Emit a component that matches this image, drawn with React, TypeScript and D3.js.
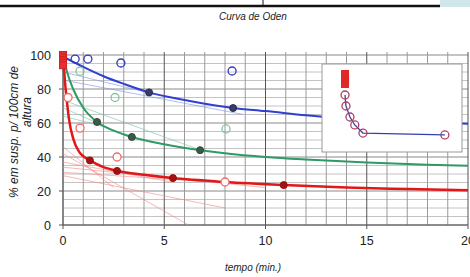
import React from 'react'
import * as d3 from 'd3'

// leituras da curva de Oden (tempo em min., % em suspensão)
const blueCurveX = [0, 0.5, 1, 2, 3, 4.25, 6, 8.4, 10, 12, 14, 17, 20]
const blueCurveY = [99, 96, 93, 87.5, 83, 78, 73.5, 68.8, 67, 64.5, 62.5, 60.8, 59.5]
const blueOpenX = [0.6, 1.23, 2.86, 8.35]
const blueOpenY = [97.6, 97.6, 95.3, 90.6]
const blueFullX = [4.25, 8.4]
const blueFullY = [78, 68.8]

const greenCurveX = [0, 0.2, 0.5, 1, 1.68, 2.5, 3.4, 5, 6.8, 8, 10, 12, 15, 18, 20]
const greenCurveY = [100, 90, 80, 69, 60.6, 55.5, 51.8, 47.5, 44, 42.2, 40, 38.5, 36.8, 35.5, 34.8]
const greenOpenX = [0.84, 2.57, 8.05]
const greenOpenY = [90.5, 75, 56.5]
const greenFullX = [1.68, 3.4, 6.77]
const greenFullY = [60.6, 51.8, 44]

const redCurveX = [0, 0.05, 0.1, 0.2, 0.3, 0.5, 0.8, 1, 1.33, 2, 2.7, 4, 5.4, 8, 10.9, 14, 17, 20]
const redCurveY = [100, 92, 84, 72, 62, 51, 43, 40.5, 38, 34, 31.8, 29.5, 27.6, 25.3, 23.5, 22, 21.2, 20.5]
const redOpenX = [0.25, 0.84, 2.67, 8.0]
const redOpenY = [75, 57, 40, 25.3]
const redFullX = [1.33, 2.67, 5.43, 10.9]
const redFullY = [38, 31.8, 27.6, 23.5]
const redSquareY = [100, 98.5, 97, 95.5, 94]

// tangentes (x0, y0, x1, y1)
const blueTangents = [[0, 85.3, 8.9, 65], [0, 90, 4.5, 77]]
const greenTangents = [[0, 73.5, 6.8, 44], [0, 69, 3.4, 51], [0, 64, 2, 58]]
const redTangents = [[0, 42, 6.2, 0], [0, 37, 5.5, 25], [0, 34, 10, 22], [0, 31, 9, 24], [0, 29, 8, 10], [0, 46, 2.5, 22]]

// gráfico pequeno
const insetX = [2.05, 2.15, 2.58, 3.1, 3.98, 12.8]
const insetY = [65.5, 52.4, 39.3, 29.8, 20.2, 17.9]
const insetSquareY = [90.5, 87.5, 84.5, 81.5, 78.6]

const xTicks = [0, 5, 10, 15, 20]
const yTicks = [0, 20, 40, 60, 80, 100]

export default function App() {
  const width = 470
  const height = 277
  const x = d3.scaleLinear().domain([0, 20]).range([63, 468])
  const y = d3.scaleLinear().domain([0, 100]).range([225, 55])
  const ix = d3.scaleLinear().domain([0, 14]).range([326, 456])
  const iy = d3.scaleLinear().domain([0, 100]).range([150, 66])

  const line = (xs, ys) =>
    d3.line<number>().x((d, i) => x(xs[i])).y(d => y(d)).curve(d3.curveMonotoneX)(ys)
  const insetLine = d3.line<number>().x((d, i) => ix(insetX[i])).y(d => iy(d))(insetY)

  const vGrid = d3.range(0, 21, 1)
  const hGrid = d3.range(0, 101, 5)

  const font = 'Liberation Sans, Arial, sans-serif'

  const tangents = (list, color) =>
    list.map((t, i) => (
      <line key={i} x1={x(t[0])} y1={y(t[1])} x2={x(t[2])} y2={y(t[3])}
        stroke={color} strokeWidth={1} opacity={0.6} />
    ))

  return (
    <svg width={width} height={height} style={{ position: 'absolute', left: 0, top: 0, background: '#fff' }}
      fontFamily={font}>
      {/* resto da tabela por cima */}
      <line x1={0} x2={440} y1={6} y2={6} stroke="#111" strokeWidth={2.5} />
      <line x1={263} x2={263} y1={0} y2={6} stroke="#111" strokeWidth={1} />
      <rect x={440} y={0} width={30} height={7} fill="#cfe6ea" />
      <text x={253} y={20} textAnchor="middle" fontSize={10} fontStyle="italic" fill="#222">Curva de Oden</text>

      {/* grelha */}
      {hGrid.map(v => (
        <line key={'h' + v} x1={x(0)} x2={x(20)} y1={y(v)} y2={y(v)}
          stroke={v % 20 === 0 ? '#8a8a8a' : '#c4c4c4'} strokeWidth={1} />
      ))}
      {vGrid.map(v => (
        <line key={'v' + v} x1={x(v)} x2={x(v)} y1={y(0)} y2={y(100) - 3}
          stroke={v % 5 === 0 ? '#555' : '#9a9a9a'} strokeWidth={1} />
      ))}
      <line x1={x(0)} x2={x(0)} y1={y(0)} y2={y(100) - 3} stroke="#666" />
      <line x1={x(0)} x2={x(20)} y1={y(0)} y2={y(0)} stroke="#555" />

      {yTicks.map(v => (
        <g key={'yt' + v}>
          <line x1={x(0) - 4} x2={x(0)} y1={y(v)} y2={y(v)} stroke="#555" />
          <text x={x(0) - 12} y={y(v) + 4.5} textAnchor="end" fontSize={12.5} fill="#222">{v}</text>
        </g>
      ))}
      {xTicks.map(v => (
        <g key={'xt' + v}>
          <line x1={x(v)} x2={x(v)} y1={y(0)} y2={y(0) + 4} stroke="#555" />
          <text x={x(v)} y={y(0) + 20} textAnchor="middle" fontSize={12.5} fill="#222">{v}</text>
        </g>
      ))}

      <text transform={`translate(18,132) rotate(-90)`} textAnchor="middle" fontSize={12} fontStyle="italic" fill="#222">% em susp. p/ 100cm de</text>
      <text transform={`translate(31,112) rotate(-90)`} textAnchor="middle" fontSize={12} fontStyle="italic" fill="#222">altura</text>
      <text x={253} y={271} textAnchor="middle" fontSize={10} fontStyle="italic" fill="#222">tempo (min.)</text>

      {/* tangentes */}
      {tangents(blueTangents, '#7f8fe8')}
      {tangents(greenTangents, '#7cc49c')}
      {tangents(redTangents, '#f08a8a')}

      {/* curvas */}
      <path d={line(blueCurveX, blueCurveY)} fill="none" stroke="#2f3fd0" strokeWidth={2} />
      <path d={line(greenCurveX, greenCurveY)} fill="none" stroke="#2e9a64" strokeWidth={2} />
      <path d={line(redCurveX, redCurveY)} fill="none" stroke="#e01818" strokeWidth={2.5} />

      {blueOpenX.map((v, i) => (
        <circle key={'bo' + i} cx={x(v)} cy={y(blueOpenY[i])} r={4} fill="none" stroke="#3636c0" strokeWidth={1.3} />
      ))}
      {greenOpenX.map((v, i) => (
        <circle key={'go' + i} cx={x(v)} cy={y(greenOpenY[i])} r={4} fill="none" stroke="#86c49c" strokeWidth={1.3} />
      ))}
      {redOpenX.map((v, i) => (
        <circle key={'ro' + i} cx={x(v)} cy={y(redOpenY[i])} r={4} fill="#fff" stroke="#f06a6a" strokeWidth={1.3} />
      ))}
      {blueFullX.map((v, i) => (
        <circle key={'bf' + i} cx={x(v)} cy={y(blueFullY[i])} r={3.5} fill="#3a3a6a" stroke="#2a2a55" />
      ))}
      {greenFullX.map((v, i) => (
        <circle key={'gf' + i} cx={x(v)} cy={y(greenFullY[i])} r={3.5} fill="#3d5a48" stroke="#2d4a38" />
      ))}
      {redFullX.map((v, i) => (
        <circle key={'rf' + i} cx={x(v)} cy={y(redFullY[i])} r={3.5} fill="#a81010" stroke="#901010" />
      ))}
      {redSquareY.map((v, i) => (
        <rect key={'rs' + i} x={x(0) - 3.5} y={y(v) - 3.5} width={7} height={7} fill="#e83030" stroke="#d02020" />
      ))}

      {/* gráfico pequeno */}
      <rect x={322} y={64} width={140} height={88} fill="#fff" stroke="#999" strokeWidth={1} />
      <path d={insetLine} fill="none" stroke="#3340b0" strokeWidth={1.3} />
      {insetSquareY.map((v, i) => (
        <rect key={'is' + i} x={ix(insetX[0]) - 4} y={iy(v) - 4} width={8} height={8} fill="#e02828" />
      ))}
      {insetX.map((v, i) => (
        <circle key={'ic' + i} cx={ix(v)} cy={iy(insetY[i])} r={4} fill="none" stroke="#b04060" strokeWidth={1.3} />
      ))}
    </svg>
  )
}
